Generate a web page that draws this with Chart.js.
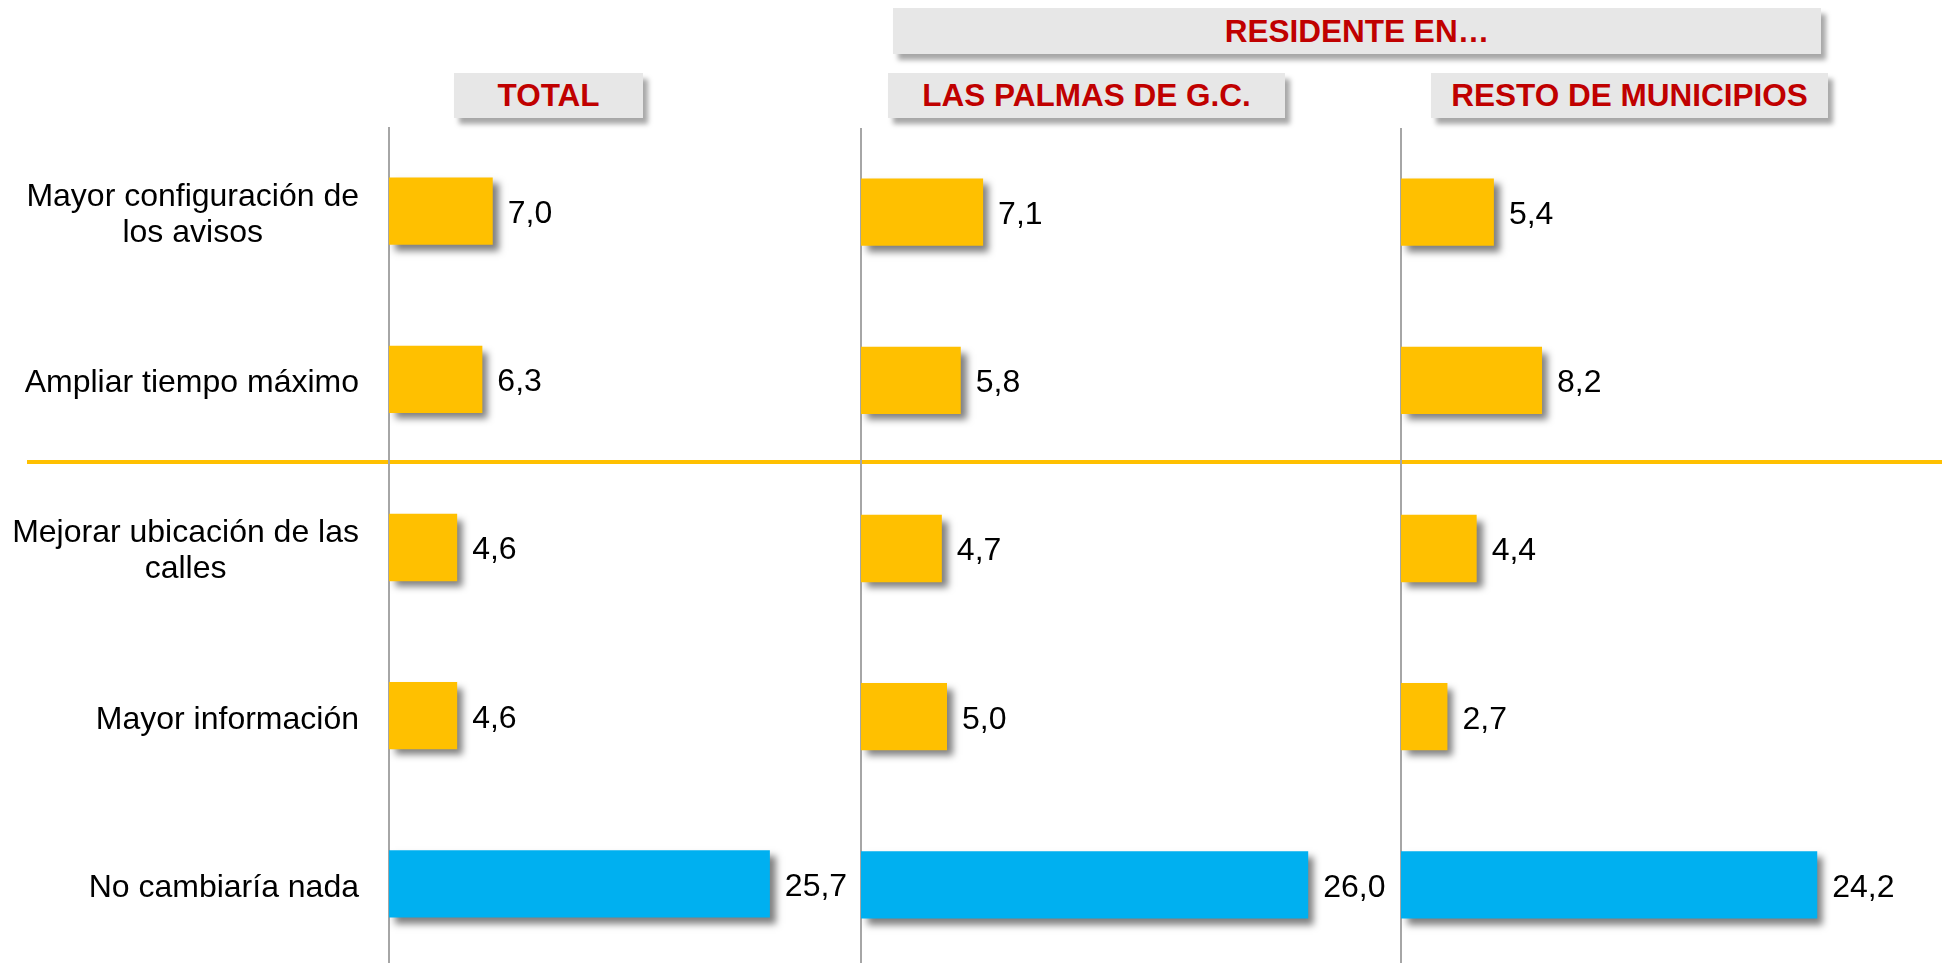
<!DOCTYPE html>
<html lang="es">
<head>
<meta charset="utf-8">
<title>Cambios propuestos</title>
<script src="https://cdn.jsdelivr.net/npm/chart.js@4.4.1/dist/chart.umd.min.js"></script>
<style>
    html, body { margin: 0; padding: 0; background: #fff; overflow: hidden; }
    #wrap { position: relative; width: 1942px; height: 963px; overflow: hidden; font-family: "Liberation Sans", Arial, sans-serif; }
    #wrap canvas { position: absolute; }
    .cab {
        position: absolute; height: 45px; background: #e7e7e7;
        box-shadow: 5px 6px 5px rgba(0,0,0,0.35);
        color: #c00000; font-weight: bold; font-size: 31.5px;
        display: flex; align-items: center; justify-content: center;
    }
    .separador { position: absolute; left: 27px; right: 0; top: 460px; height: 4px; background: #ffc000; }
</style>
</head>
<body>
<div id="wrap">
    <div class="cab" style="left:893px; top:8px; width:928px; height:46px;">RESIDENTE EN…</div>
    <div class="cab" style="left:454px; top:73px; width:189px;">TOTAL</div>
    <div class="cab" style="left:888px; top:73px; width:397px;">LAS PALMAS DE G.C.</div>
    <div class="cab" style="left:1431px; top:73px; width:397px;">RESTO DE MUNICIPIOS</div>
    <div class="separador"></div>
    <canvas id="cTotal" width="861" height="841" style="left:0; top:127px;"></canvas>
    <canvas id="cPalmas" width="560" height="841" style="left:851px; top:128px;"></canvas>
    <canvas id="cResto" width="551" height="841" style="left:1391px; top:128px;"></canvas>
</div>
<script>
const categorias = [
    ['Mayor configuración de', 'los avisos'],
    'Ampliar tiempo máximo',
    ['Mejorar ubicación de las', 'calles'],
    'Mayor información',
    'No cambiaría nada'
];
const total = [7.0, 6.3, 4.6, 4.6, 25.7];
const lasPalmas = [7.1, 5.8, 4.7, 5.0, 26.0];
const restoMunicipios = [5.4, 8.2, 4.4, 2.7, 24.2];

const AMARILLO = '#ffc000';
const AZUL = '#00b0f0';
const FUENTE = '"Liberation Sans", Arial, sans-serif';

// sombra bajo las barras, como en la plantilla de Excel
const sombraBarras = {
    id: 'sombraBarras',
    beforeDatasetsDraw(chart) {
        const ctx = chart.ctx;
        ctx.save();
        ctx.shadowColor = 'rgba(0,0,0,0.5)';
        ctx.shadowBlur = 7;
        ctx.shadowOffsetX = 6;
        ctx.shadowOffsetY = 6;
    },
    afterDatasetsDraw(chart) {
        chart.ctx.restore();
    }
};

// valor al final de cada barra, con coma decimal
const etiquetasValor = {
    id: 'etiquetasValor',
    afterDatasetsDraw(chart) {
        const ctx = chart.ctx;
        const meta = chart.getDatasetMeta(0);
        const datos = chart.data.datasets[0].data;
        ctx.save();
        ctx.font = '32px ' + FUENTE;
        ctx.fillStyle = '#000';
        ctx.textAlign = 'left';
        ctx.textBaseline = 'middle';
        meta.data.forEach((bar, i) => {
            ctx.fillText(datos[i].toFixed(1).replace('.', ','), bar.x + 15, bar.y + 3);
        });
        ctx.restore();
    }
};

// rótulos de categoría: cada bloque centrado en sí mismo y alineado a la derecha
const rotulos = {
    id: 'rotulos',
    afterDraw(chart) {
        const sc = chart.scales.y;
        const ctx = chart.ctx;
        const lh = 36;
        ctx.save();
        ctx.font = '32px ' + FUENTE;
        ctx.fillStyle = '#000';
        ctx.textAlign = 'center';
        ctx.textBaseline = 'middle';
        chart.data.labels.forEach((lab, i) => {
            const lineas = Array.isArray(lab) ? lab : [lab];
            const ancho = Math.max(...lineas.map(l => ctx.measureText(l).width));
            const cx = sc.right - 30 - ancho / 2;
            const y0 = sc.getPixelForValue(i) + 4 - (lineas.length - 1) * lh / 2;
            lineas.forEach((l, k) => ctx.fillText(l, cx, y0 + k * lh));
        });
        ctx.restore();
    }
};

function crearPanel(id, datos, anchoEje, pxUnidad, conRotulos) {
    const canvas = document.getElementById(id);
    const maxX = 30;
    const padDer = canvas.width - anchoEje - maxX * pxUnidad;
    const plugins = [sombraBarras, etiquetasValor];
    if (conRotulos) plugins.push(rotulos);

    return new Chart(canvas, {
        type: 'bar',
        data: {
            labels: categorias,
            datasets: [{
                data: datos,
                backgroundColor: categorias.map((c, i) => i === categorias.length - 1 ? AZUL : AMARILLO),
                borderWidth: 0,
                categoryPercentage: 0.8,
                barPercentage: 0.5
            }]
        },
        options: {
            indexAxis: 'y',
            responsive: false,
            animation: false,
            devicePixelRatio: 1,
            layout: { padding: { top: 0, bottom: 0, left: 0, right: padDer } },
            plugins: { legend: { display: false }, tooltip: { enabled: false } },
            scales: {
                x: { display: false, min: 0, max: maxX },
                y: {
                    grid: { display: false },
                    border: { display: true, color: '#a6a6a6', width: 2 },
                    ticks: { display: false },
                    afterFit(scale) { scale.width = anchoEje; }
                }
            }
        },
        plugins
    });
}

crearPanel('cTotal', total, 389, 14.82, true);
crearPanel('cPalmas', lasPalmas, 10, 17.2, false);
crearPanel('cResto', restoMunicipios, 10, 17.2, false);
</script>
</body>
</html>
